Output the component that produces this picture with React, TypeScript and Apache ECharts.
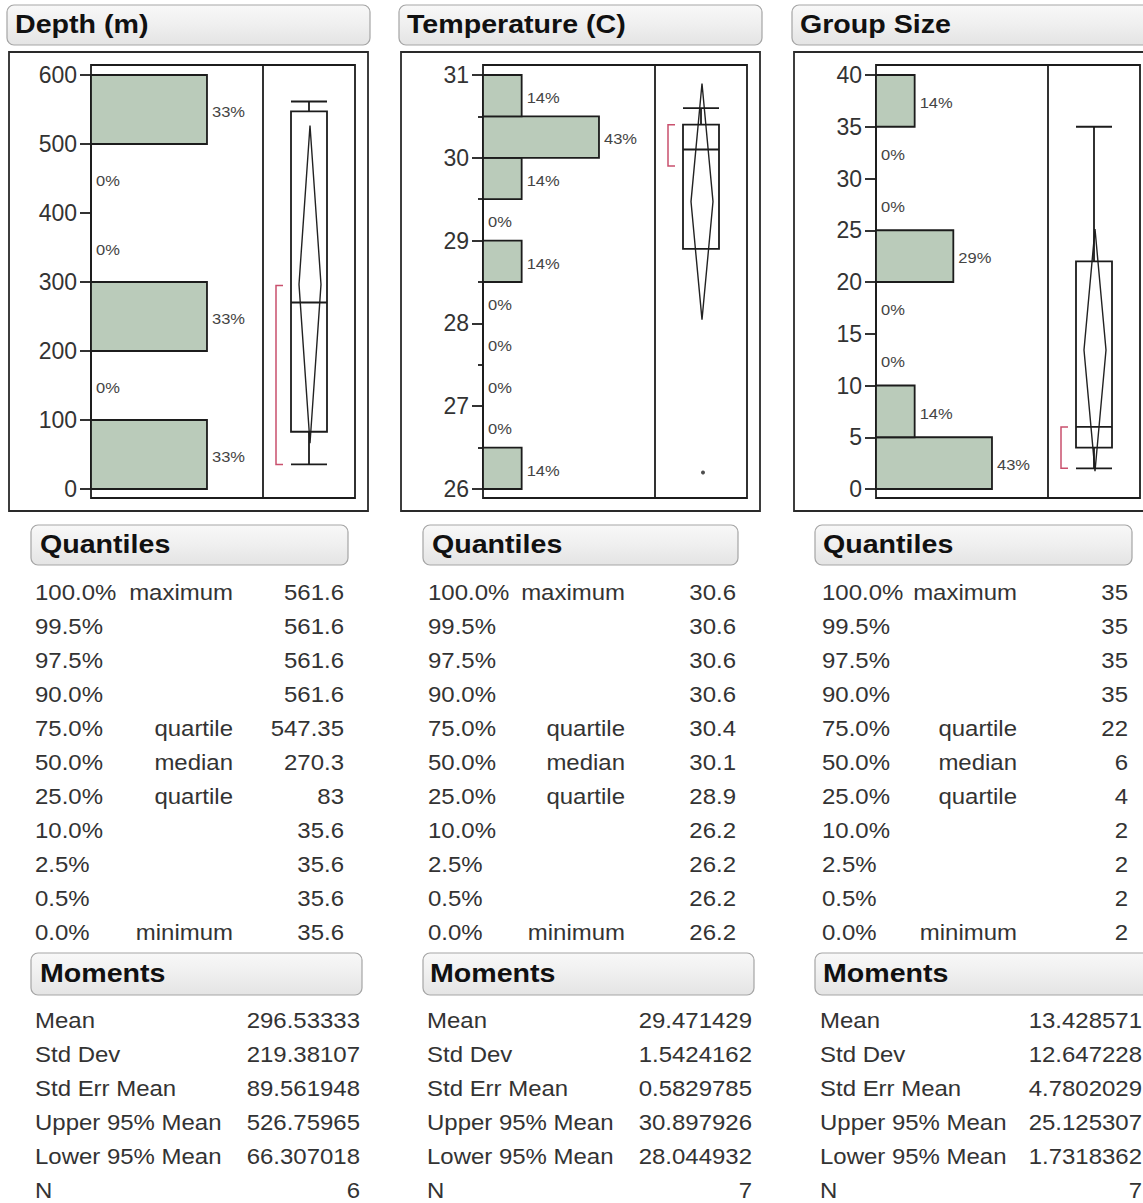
import React, { useEffect, useRef } from "react";
import * as echarts from "echarts";

// ---------- DATA ----------
const titles = ["Depth (m)", "Temperature (C)", "Group Size"];

// histogram bins: edges (bottom to top) and counts per bin
const depthBinEdges = [0, 100, 200, 300, 400, 500, 600];
const depthCounts = [2, 0, 2, 0, 0, 2];
const tempBinEdges = [26, 26.5, 27, 27.5, 28, 28.5, 29, 29.5, 30, 30.5, 31];
const tempCounts = [1, 0, 0, 0, 0, 1, 0, 1, 3, 1];
const groupBinEdges = [0, 5, 10, 15, 20, 25, 30, 35, 40];
const groupCounts = [3, 1, 0, 0, 2, 0, 0, 1];

// value axes
const axisMins = [0, 26, 0];
const axisMaxs = [600, 31, 40];
const axisIntervals = [100, 1, 5];

// box plots: [lower whisker, Q1, median, Q3, upper whisker]
const depthBox = [35.6, 83, 270.3, 547.35, 561.6];
const tempBox = [28.9, 28.9, 30.1, 30.4, 30.6];
const groupBox = [2, 4, 6, 22, 35];
const depthOutliers: number[] = [];
const tempOutliers = [26.2];
const groupOutliers: number[] = [];
// shortest half brackets [low, high]
const depthShortestHalf = [35.6, 295];
const tempShortestHalf = [29.9, 30.4];
const groupShortestHalf = [2, 6];

// quantiles table
const quantilePcts = ["100.0%", "99.5%", "97.5%", "90.0%", "75.0%", "50.0%", "25.0%", "10.0%", "2.5%", "0.5%", "0.0%"];
const quantileNames = ["maximum", "", "", "", "quartile", "median", "quartile", "", "", "", "minimum"];
const depthQuantiles = ["561.6", "561.6", "561.6", "561.6", "547.35", "270.3", "83", "35.6", "35.6", "35.6", "35.6"];
const tempQuantiles = ["30.6", "30.6", "30.6", "30.6", "30.4", "30.1", "28.9", "26.2", "26.2", "26.2", "26.2"];
const groupQuantiles = ["35", "35", "35", "35", "22", "6", "4", "2", "2", "2", "2"];

// moments table
const momentNames = ["Mean", "Std Dev", "Std Err Mean", "Upper 95% Mean", "Lower 95% Mean", "N"];
const depthMoments = ["296.53333", "219.38107", "89.561948", "526.75965", "66.307018", "6"];
const tempMoments = ["29.471429", "1.5424162", "0.5829785", "30.897926", "28.044932", "7"];
const groupMoments = ["13.428571", "12.647228", "4.7802029", "25.125307", "1.7318362", "7"];

// ---------- LAYOUT / STYLE ----------
const FONT = "'Liberation Sans', Arial, Helvetica, sans-serif";
const PANEL_X = [0, 392, 785];
const SX = 1.09;
const BAR_FILL = "#bacbba";
const INK = "#1c1c1c";
const TEXT = "#333333";

const qPctX = [35, 428, 822];
const qNameRight = [233, 625, 1017];
const qValRight = [344, 736, 1128];
const qHeader = [[31, 348], [423, 738], [815, 1132]];
const qHeaderText = [40, 432, 823];
const mLabelX = [35, 427, 820];
const mValRight = [360, 752, 1142];
const mHeader = [[31, 362], [423, 754], [815, 1165]];
const mHeaderText = [40, 430, 823];

function headerBox(x1: number, x2: number, y1: number, y2: number, text: string, tx: number) {
  return [
    {
      type: "rect",
      shape: { x: x1, y: y1, width: x2 - x1, height: y2 - y1, r: 7 },
      style: {
        fill: {
          type: "linear", x: 0, y: 0, x2: 0, y2: 1,
          colorStops: [
            { offset: 0, color: "#f8f8f8" },
            { offset: 0.5, color: "#efefef" },
            { offset: 1, color: "#e4e4e4" },
          ],
        },
        stroke: "#a5a5a5",
        lineWidth: 1.2,
      },
    },
    {
      type: "text",
      x: tx,
      y: (y1 + y2) / 2 - 1,
      scaleX: 1.1,
      style: { text, fontSize: 26, fontWeight: "bold", fill: "#111", align: "left", verticalAlign: "middle", fontFamily: FONT },
    },
  ];
}

function tText(x: number, y: number, text: string, align: string) {
  return {
    type: "text",
    x,
    y,
    scaleX: SX,
    style: { text, fontSize: 22, fill: TEXT, align, verticalAlign: "middle", fontFamily: FONT },
  };
}

export default function App() {
  const ref = useRef<HTMLDivElement>(null);

  useEffect(() => {
    if (!ref.current) return;
    const chart = echarts.init(ref.current, null, { renderer: "svg" });

    const panels = [
      { edges: depthBinEdges, counts: depthCounts, box: depthBox, outliers: depthOutliers, half: depthShortestHalf, quant: depthQuantiles, mom: depthMoments },
      { edges: tempBinEdges, counts: tempCounts, box: tempBox, outliers: tempOutliers, half: tempShortestHalf, quant: tempQuantiles, mom: tempMoments },
      { edges: groupBinEdges, counts: groupCounts, box: groupBox, outliers: groupOutliers, half: groupShortestHalf, quant: groupQuantiles, mom: groupMoments },
    ];

    const grid: any[] = [];
    const xAxis: any[] = [];
    const yAxis: any[] = [];
    const series: any[] = [];
    const graphic: any[] = [];

    panels.forEach((p, i) => {
      const ox = PANEL_X[i];
      const n = p.counts.reduce((a, b) => a + b, 0);
      const maxC = Math.max(...p.counts);
      const labels = p.counts.map((c) => Math.round((100 * c) / n) + "%");

      grid.push({ left: 91 + ox, top: 75, width: 172, height: 414 });
      grid.push({ left: 263 + ox, top: 75, width: 92, height: 414 });

      xAxis.push({ type: "value", gridIndex: 2 * i, min: 0, max: maxC * 1.483, show: false });
      xAxis.push({ type: "category", gridIndex: 2 * i + 1, data: [titles[i]], show: false });

      yAxis.push({
        type: "value",
        gridIndex: 2 * i,
        min: axisMins[i],
        max: axisMaxs[i],
        interval: axisIntervals[i],
        axisLine: { show: true, lineStyle: { color: INK, width: 1.8 } },
        axisTick: { show: true, length: 11, lineStyle: { color: INK, width: 1.8 } },
        minorTick: { show: i === 1, splitNumber: 2, length: 5, lineStyle: { color: INK, width: 1.8 } },
        axisLabel: { fontSize: 23, color: TEXT, margin: 14, fontFamily: FONT },
        splitLine: { show: false },
      });
      yAxis.push({ type: "value", gridIndex: 2 * i + 1, min: axisMins[i], max: axisMaxs[i], show: false });

      // histogram
      series.push({
        type: "custom",
        xAxisIndex: 2 * i,
        yAxisIndex: 2 * i,
        data: p.counts.map((c, k) => [c, p.edges[k], p.edges[k + 1]]),
        renderItem: (params: any, api: any) => {
          const c = api.value(0);
          const lo = api.value(1);
          const hi = api.value(2);
          const p0 = api.coord([0, hi]);
          const p1 = api.coord([c, lo]);
          const mid = api.coord([c, (lo + hi) / 2]);
          const children: any[] = [];
          if (c > 0) {
            children.push({
              type: "rect",
              shape: { x: p0[0], y: p0[1], width: p1[0] - p0[0], height: p1[1] - p0[1] },
              style: { fill: BAR_FILL, stroke: INK, lineWidth: 1.8 },
            });
          }
          children.push({
            type: "text",
            x: mid[0] + 5,
            y: mid[1] + 2,
            scaleX: 1.1,
            style: { text: labels[params.dataIndex], fontSize: 15, fill: "#444", align: "left", verticalAlign: "middle", fontFamily: FONT },
          });
          return { type: "group", children };
        },
        silent: true,
      });

      // box plot
      series.push({
        type: "boxplot",
        xAxisIndex: 2 * i + 1,
        yAxisIndex: 2 * i + 1,
        data: [p.box],
        boxWidth: [36, 36],
        itemStyle: { color: "rgba(0,0,0,0)", borderColor: INK, borderWidth: 1.8 },
        emphasis: { disabled: true },
        silent: true,
      });

      // mean diamond + shortest half bracket
      const mean = parseFloat(p.mom[0]);
      const upper = parseFloat(p.mom[3]);
      const lower = parseFloat(p.mom[4]);
      series.push({
        type: "custom",
        xAxisIndex: 2 * i + 1,
        yAxisIndex: 2 * i + 1,
        data: [[0, mean, upper, lower, p.half[0], p.half[1]]],
        renderItem: (params: any, api: any) => {
          const mid = api.coord([0, api.value(1)]);
          const top = api.coord([0, api.value(2)]);
          const bot = api.coord([0, api.value(3)]);
          const hLo = api.coord([0, api.value(4)]);
          const hHi = api.coord([0, api.value(5)]);
          const cx = mid[0] + 1;
          return {
            type: "group",
            children: [
              {
                type: "polygon",
                shape: { points: [[cx, top[1]], [cx + 11, mid[1]], [cx, bot[1]], [cx - 11, mid[1]]] },
                style: { fill: "none", stroke: "#222", lineWidth: 1.4 },
              },
              {
                type: "polyline",
                shape: { points: [[cx - 27, hHi[1]], [cx - 34, hHi[1]], [cx - 34, hLo[1]], [cx - 27, hLo[1]]] },
                style: { fill: "none", stroke: "#c9506d", lineWidth: 1.5 },
              },
            ],
          };
        },
        silent: true,
      });

      if (p.outliers.length) {
        series.push({
          type: "scatter",
          xAxisIndex: 2 * i + 1,
          yAxisIndex: 2 * i + 1,
          data: p.outliers.map((v) => [0, v]),
          symbolSize: 4,
          symbolOffset: [2, 0],
          itemStyle: { color: "#222" },
          silent: true,
        });
      }

      // frames and titles
      graphic.push(...headerBox(7 + ox, 370 + ox, 5, 45, titles[i], 15 + ox));
      graphic.push({
        type: "rect",
        shape: { x: 9 + ox, y: 52, width: 359, height: 459 },
        style: { fill: "none", stroke: "#2a2a2a", lineWidth: 1.8 },
      });
      graphic.push({
        type: "rect",
        shape: { x: 91 + ox, y: 65, width: 264, height: 433 },
        style: { fill: "none", stroke: INK, lineWidth: 1.8 },
      });
      graphic.push({
        type: "line",
        shape: { x1: 263 + ox, y1: 65, x2: 263 + ox, y2: 498 },
        style: { stroke: INK, lineWidth: 1.8 },
      });

      // quantiles
      graphic.push(...headerBox(qHeader[i][0], qHeader[i][1], 525, 565, "Quantiles", qHeaderText[i]));
      quantilePcts.forEach((pct, k) => {
        const y = 592 + 34 * k;
        graphic.push(tText(qPctX[i], y, pct, "left"));
        if (quantileNames[k]) graphic.push(tText(qNameRight[i], y, quantileNames[k], "right"));
        graphic.push(tText(qValRight[i], y, p.quant[k], "right"));
      });

      // moments
      graphic.push(...headerBox(mHeader[i][0], mHeader[i][1], 953, 995, "Moments", mHeaderText[i]));
      momentNames.forEach((name, k) => {
        const y = 1020 + 34 * k;
        graphic.push(tText(mLabelX[i], y, name, "left"));
        graphic.push(tText(mValRight[i], y, p.mom[k], "right"));
      });
    });

    chart.setOption({
      animation: false,
      backgroundColor: "#ffffff",
      grid,
      xAxis,
      yAxis,
      series,
      graphic: { elements: graphic },
    });

    return () => chart.dispose();
  }, []);

  return (
    <div
      ref={ref}
      style={{ position: "absolute", left: 0, top: 0, width: 1143, height: 1203, background: "#fff" }}
    />
  );
}
